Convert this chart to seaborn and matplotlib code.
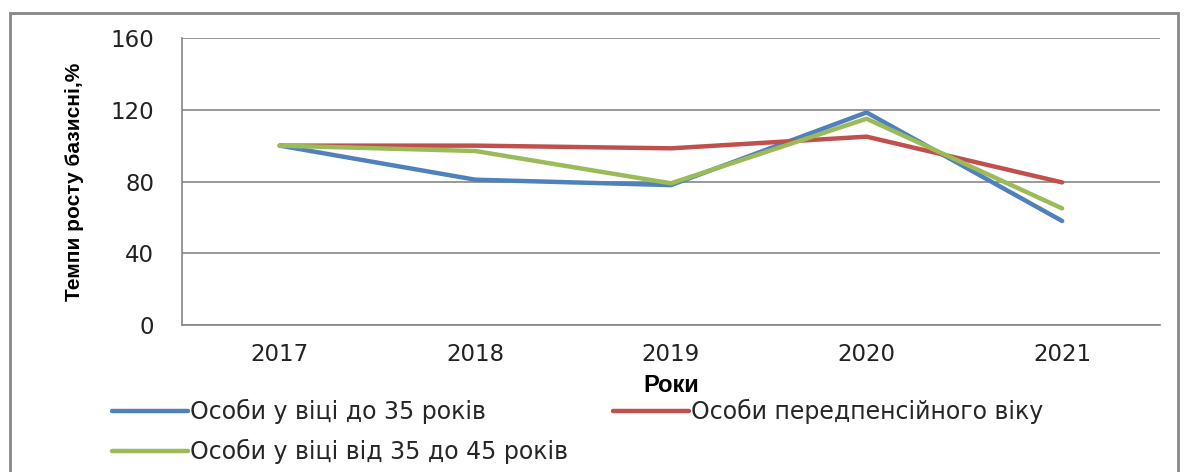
# line chart: base growth rates by age group

import seaborn as sns
import matplotlib.pyplot as plt
import matplotlib.patches as mpatches
import pandas as pd
import numpy as np

# values
years = ['2017', '2018', '2019', '2020', '2021']
under_35 = [100, 81, 78, 118.5, 58]
pre_pension = [100, 100, 98.5, 105, 79.5]
age_35_45 = [100, 97, 79, 115, 65]

series_names = ['Особи у віці до 35 років',
                'Особи передпенсійного віку',
                'Особи у віці від 35 до 45 років']
colors = ['#4F81BD', '#C0504D', '#9BBB59']
y_ticks = [0, 40, 80, 120, 160]

# long form table for seaborn
df = pd.DataFrame({
    'Роки': years * 3,
    'value': under_35 + pre_pension + age_35_45,
    'series': np.repeat(series_names, len(years)),
})

sns.set_style('white')
plt.rcParams['font.family'] = ['DejaVu Sans']

fig = plt.figure(figsize=(11.84, 4.72), dpi=100)
ax = fig.add_axes([0.1537, 0.3114, 0.826, 0.6081])

sns.lineplot(data=df, x='Роки', y='value', hue='series', palette=colors,
             linewidth=3.2, sort=False, ax=ax, legend=False)

ax.set_xlim(-0.5, 4.5)
ax.set_ylim(0, 160)
ax.set_yticks(y_ticks)
ax.set_yticklabels([str(v) for v in y_ticks], fontsize=16.5, color='#222222')
ax.set_xticks(range(len(years)))
ax.set_xticklabels(years, fontsize=16.5, color='#222222')
ax.set_xticks(np.arange(-0.5, 5, 1), minor=True)
ax.tick_params(axis='x', which='major', length=0, pad=13)
ax.tick_params(axis='x', which='minor', length=6, color='#868686', width=1.2)
ax.tick_params(axis='y', length=6, color='#868686', width=1.2, pad=14)
ax.yaxis.grid(True, color='#868686', linewidth=1.2)
ax.set_axisbelow(True)
for side in ['top', 'right']:
    ax.spines[side].set_visible(False)
for side in ['left', 'bottom']:
    ax.spines[side].set_color('#868686')
    ax.spines[side].set_linewidth(1.2)

label_font = ['Liberation Sans', 'DejaVu Sans']
ax.set_ylabel('Темпи росту базисні,%', fontsize=15, fontweight='bold',
              family=label_font, labelpad=19, color='black')
ax.set_xlabel('Роки', fontsize=17, fontweight='bold', family=label_font,
              labelpad=6, color='black')

# legend under the chart; ncol fills column-wise, so order handles to
# give rows: [до 35, передпенсійного] / [від 35 до 45]
order = [0, 2, 1]
handles = [plt.Line2D([], [], color=colors[i], linewidth=3.2) for i in order]
labels = [series_names[i] for i in order]
fig.legend(handles, labels, ncol=2, loc='upper left',
           bbox_to_anchor=(0.087, 0.175), bbox_transform=fig.transFigure,
           frameon=False, fontsize=17, handlelength=3.2, handletextpad=0.1,
           columnspacing=1.9, labelspacing=0.65, borderaxespad=0)

# outer chart frame
frame = mpatches.Rectangle((10 / 1184, -0.05), 1168 / 1184, 1.05 - 13 / 472,
                           transform=fig.transFigure, fill=False,
                           edgecolor='#868686', linewidth=2, clip_on=False)
fig.patches.append(frame)

plt.savefig('out.png', dpi=100)
